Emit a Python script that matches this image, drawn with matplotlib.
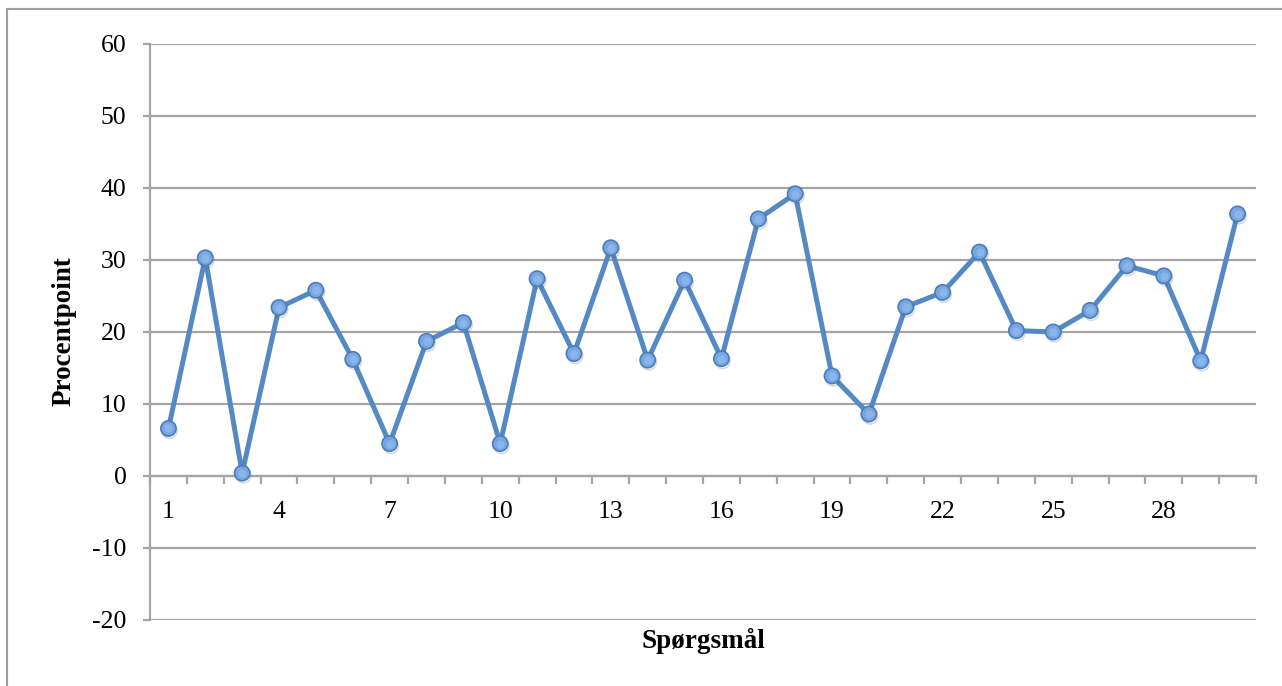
import matplotlib
matplotlib.use("Agg")
import matplotlib.pyplot as plt
from matplotlib.lines import Line2D
from matplotlib.ticker import FixedLocator, NullFormatter
import matplotlib.patheffects as pe

# Question numbers and percentage-point values
questions = list(range(1, 31))
values = [6.6, 30.3, 0.4, 23.4, 25.8, 16.2, 4.5, 18.7, 21.3, 4.5,
          27.4, 17.0, 31.7, 16.1, 27.2, 16.3, 35.7, 39.2, 13.9, 8.6,
          23.5, 25.5, 31.1, 20.2, 20.0, 23.0, 29.2, 27.8, 16.0, 36.4]
shown_labels = [1, 4, 7, 10, 13, 16, 19, 22, 25, 28]
y_ticks = [-20, -10, 0, 10, 20, 30, 40, 50, 60]

plt.rcParams["font.family"] = ["Liberation Serif", "DejaVu Serif"]

W, H = 1282, 686
fig = plt.figure(figsize=(W / 100, H / 100), dpi=100)
ax = fig.add_axes([150 / W, 1 - 620 / H, (1256 - 150) / W, (620 - 44) / H])

grid_col = "#A5A5A5"
line_col = "#5489C4"
tick_fs = 18.5
title_fs = 19.5

ax.set_xlim(0.5, 30.5)
ax.set_ylim(-20, 60)

# Horizontal gridlines
ax.set_yticks(y_ticks)
ax.set_yticklabels([str(v) for v in y_ticks], fontsize=tick_fs)
ax.yaxis.grid(True, color=grid_col, linewidth=1.6)
ax.set_axisbelow(True)
ax.tick_params(axis="y", length=5, width=1.6, color=grid_col, pad=12)

# Category axis crossing at zero
for s in ["top", "right"]:
    ax.spines[s].set_visible(False)
ax.spines["left"].set_color(grid_col)
ax.spines["left"].set_linewidth(1.6)
ax.spines["bottom"].set_position(("data", 0))
ax.spines["bottom"].set_color(grid_col)
ax.spines["bottom"].set_linewidth(1.6)

ax.set_xticks(shown_labels)
ax.set_xticklabels([str(v) for v in shown_labels], fontsize=tick_fs)
ax.tick_params(axis="x", which="major", length=0, pad=18)
ax.xaxis.set_minor_locator(FixedLocator([q + 0.5 for q in [0] + questions]))
ax.xaxis.set_minor_formatter(NullFormatter())
ax.tick_params(axis="x", which="minor", length=6, width=1.6, color=grid_col,
               direction="out")

# Series line, then markers with a soft drop shadow
ax.plot(questions, values, color=line_col, linewidth=3.6, zorder=3,
        solid_joinstyle="round")
ax.plot(questions, values, linestyle="none", marker="o", markersize=11,
        markerfacecolor="#78A6E2", markeredgecolor="#4A7EBB",
        markeredgewidth=1.2, zorder=4, clip_on=False,
        path_effects=[pe.SimpleLineShadow(offset=(0.8, -1.6), alpha=0.22,
                                          shadow_color="#555555"),
                      pe.Normal()])
# highlight on the marker faces
ax.plot(questions, values, linestyle="none", marker="o", markersize=6,
        markerfacecolor="#9CC0EE", markeredgewidth=0, alpha=0.55, zorder=5,
        clip_on=False)

fig.text(64 / W, 1 - 331 / H, "Procentpoint", fontsize=title_fs,
         fontweight="bold", rotation=90, ha="center", va="center")
fig.text(703 / W, 1 - 641 / H, "Spørgsmål", fontsize=title_fs,
         fontweight="bold", ha="center", va="center")

# Chart frame
fig.add_artist(Line2D([7 / W, 7 / W], [0, 1 - 9 / H], transform=fig.transFigure,
                      color="#A0A0A0", linewidth=1.5))
fig.add_artist(Line2D([7 / W, 1], [1 - 9 / H, 1 - 9 / H], transform=fig.transFigure,
                      color="#A0A0A0", linewidth=1.5))

fig.savefig("out.png", dpi=100, facecolor="white")
